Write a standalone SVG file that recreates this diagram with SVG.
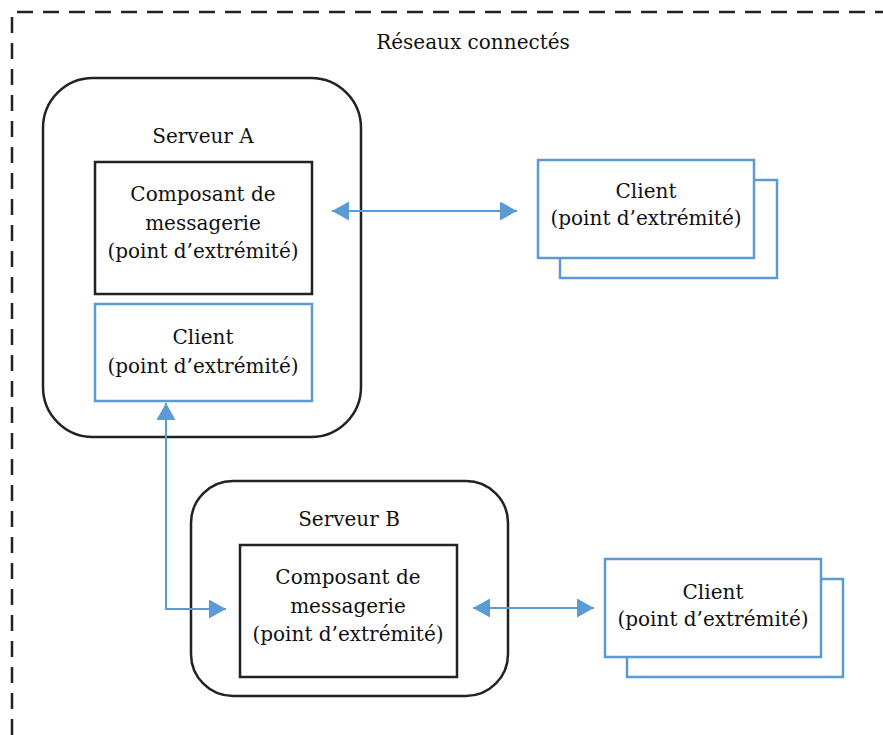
<svg xmlns="http://www.w3.org/2000/svg" width="883" height="735" viewBox="0 0 883 735">
<style>
text{font-family:"DejaVu Serif","Liberation Serif",serif;font-size:20px;fill:#111;text-anchor:middle}
.srv{fill:#fff;stroke:#222;stroke-width:2.5}
.blk{fill:#fff;stroke:#222;stroke-width:2.5}
.blu{fill:#fff;stroke:#5b9bd5;stroke-width:2.5}
.con{fill:none;stroke:#5b9bd5;stroke-width:2}
</style>
<defs>
<marker id="ah" markerUnits="userSpaceOnUse" markerWidth="18" markerHeight="20" refX="17" refY="9.5" orient="auto-start-reverse" viewBox="0 0 18 20">
<path d="M0,0 L17,9.5 L0,19 Z" fill="#5b9bd5"/>
</marker>
</defs>
<rect width="883" height="735" fill="#fff"/>
<g id="network">
<path d="M12,735 V12 H883" fill="none" stroke="#222" stroke-width="2.5" stroke-dasharray="16,10"/>
<text x="473" y="49">Réseaux connectés</text>
</g>
<g id="serveurA">
<rect class="srv" x="43" y="78" width="318" height="359" rx="50"/>
<text x="203" y="143">Serveur A</text>
</g>
<g id="composantA">
<rect class="blk" x="95" y="162" width="217" height="132"/>
<text x="203" y="201"><tspan x="203">Composant de</tspan><tspan x="203" dy="28.5">messagerie</tspan><tspan x="203" dy="28.5">(point d’extrémité)</tspan></text>
</g>
<g id="clientA">
<rect class="blu" x="95" y="304" width="217" height="97"/>
<text x="203" y="344"><tspan x="203">Client</tspan><tspan x="203" dy="29">(point d’extrémité)</tspan></text>
</g>
<g id="clientTop">
<rect class="blu" x="560" y="180" width="217" height="98"/>
<rect class="blu" x="538" y="160" width="216" height="98"/>
<text x="646" y="198"><tspan x="646">Client</tspan><tspan x="646" dy="27">(point d’extrémité)</tspan></text>
</g>
<g id="serveurB">
<rect class="srv" x="191" y="481" width="317" height="215" rx="42"/>
<text x="349" y="526">Serveur B</text>
</g>
<g id="composantB">
<rect class="blk" x="240" y="545" width="217" height="132"/>
<text x="348" y="584"><tspan x="348">Composant de</tspan><tspan x="348" dy="28.5">messagerie</tspan><tspan x="348" dy="28.5">(point d’extrémité)</tspan></text>
</g>
<g id="clientBottom">
<rect class="blu" x="627" y="579" width="216" height="98"/>
<rect class="blu" x="605" y="559" width="216" height="98"/>
<text x="713" y="599"><tspan x="713">Client</tspan><tspan x="713" dy="27">(point d’extrémité)</tspan></text>
</g>
<g id="connectors">
<path class="con" d="M332,211 H517" marker-start="url(#ah)" marker-end="url(#ah)"/>
<path class="con" d="M166,403 V609 H226" marker-start="url(#ah)" marker-end="url(#ah)"/>
<path class="con" d="M473,608 H594" marker-start="url(#ah)" marker-end="url(#ah)"/>
</g>
</svg>
